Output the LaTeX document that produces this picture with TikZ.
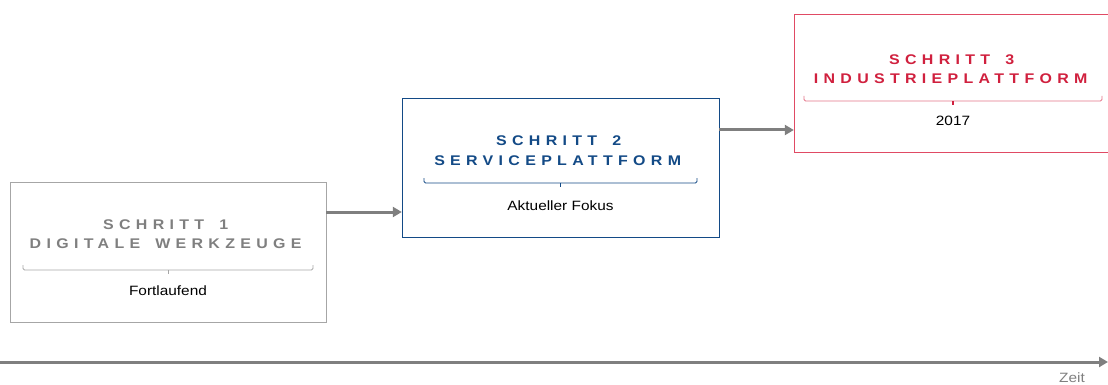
\documentclass[tikz,border=0pt]{standalone}
\usepackage{fontspec}
\setmainfont{Liberation Sans}
\newfontfamily\titlefont{Liberation Sans}[FakeStretch=1.14,LetterSpace=38]
\newfontfamily\bodyfont{Liberation Sans}[FakeStretch=1.14]
\usetikzlibrary{arrows.meta}
\definecolor{ggray}{HTML}{7F7F7F}
\definecolor{bgray}{HTML}{A6A6A6}
\definecolor{sblue}{HTML}{134A86}
\definecolor{sred}{HTML}{D0203E}
\definecolor{bred}{HTML}{E04A64}
\definecolor{brace3}{HTML}{E47388}
\tikzset{
  x=1pt,y=-1pt,
  stepbox/.style={draw,line width=0.8pt,inner sep=0pt},
  ttl/.style={font=\titlefont\bfseries\fontsize{14}{16}\selectfont,anchor=base,inner sep=0pt},
  body/.style={font=\bodyfont\fontsize{13.5}{16}\selectfont,anchor=base,inner sep=0pt,text=black},
  conn/.style={draw=ggray,line width=3pt,-{Triangle[length=9pt,width=10pt]}},
  brc/.style={line width=0.9pt,rounded corners=1.5pt},
}
\newcommand{\lsend}{\kern-5.3pt}
\newcommand{\lsp}{\ \kern5.3pt}
\begin{document}
\begin{tikzpicture}
\useasboundingbox (0,0) rectangle (1108,385);
\clip (0,0) rectangle (1108,385);
% boxes
\path[stepbox,draw=bgray] (10,182) rectangle (326,322);
\node[minimum width=316pt,minimum height=140pt,inner sep=0pt] (b1) at (168,252) {};
\path[stepbox,draw=sblue] (402,98) rectangle (719,237);
\node[minimum width=317pt,minimum height=139pt,inner sep=0pt] (b2) at (560.5,167.5) {};
\path[stepbox,draw=bred] (794,14) rectangle (1111,152);
\node[minimum width=317pt,minimum height=138pt,inner sep=0pt] (b3) at (952.5,83) {};
% box 1 texts
\node[ttl,text=ggray] (t1a) at (163,229.5) {SCHRITT\lsp 1\lsend};
\node[ttl,text=ggray] (t1b) at (163,248) {DIGITALE\lsp WERKZEUGE\lsend};
\draw[brc,draw=bgray] (23,265) -- (23,270) -- (313,270) -- (313,265);
\draw[line width=0.9pt,draw=bgray] (168,270) -- (168,274);
\node[body] (s1) at (168,295) {Fortlaufend};
% box 2 texts
\node[ttl,text=sblue] (t2a) at (556,146) {SCHRITT\lsp 2\lsend};
\node[ttl,text=sblue] (t2b) at (555,165) {SERVICEPLATTFORM\lsend};
\draw[brc,draw=sblue] (424,178) -- (424,183) -- (697,183) -- (697,178);
\draw[line width=0.9pt,draw=sblue] (560.5,183) -- (560.5,187);
\node[body] (s2) at (560.5,210) {Aktueller Fokus};
% box 3 texts
\node[ttl,text=sred] (t3a) at (949,65) {SCHRITT\lsp 3\lsend};
\node[ttl,text=sred] (t3b) at (948,84) {INDUSTRIEPLATTFORM\lsend};
\draw[brc,draw=brace3] (804,96) -- (804,101) -- (1102,101) -- (1102,96);
\draw[line width=1.2pt,draw=sred] (953,101) -- (953,105);
\node[body] (s3) at (953,125) {2017};
% connectors
\draw[conn] (b1.east |- 0,212) -- (b2.west |- 0,212);
\draw[conn] (b2.east |- 0,130) -- (b3.west |- 0,130);
% time axis
\coordinate (ta) at (0,362);
\coordinate (tb) at (1108,362);
\draw[conn] (ta) -- (tb);
\node[body,text=ggray] (zeit) at (1072,382) {Zeit};
\end{tikzpicture}
\end{document}
